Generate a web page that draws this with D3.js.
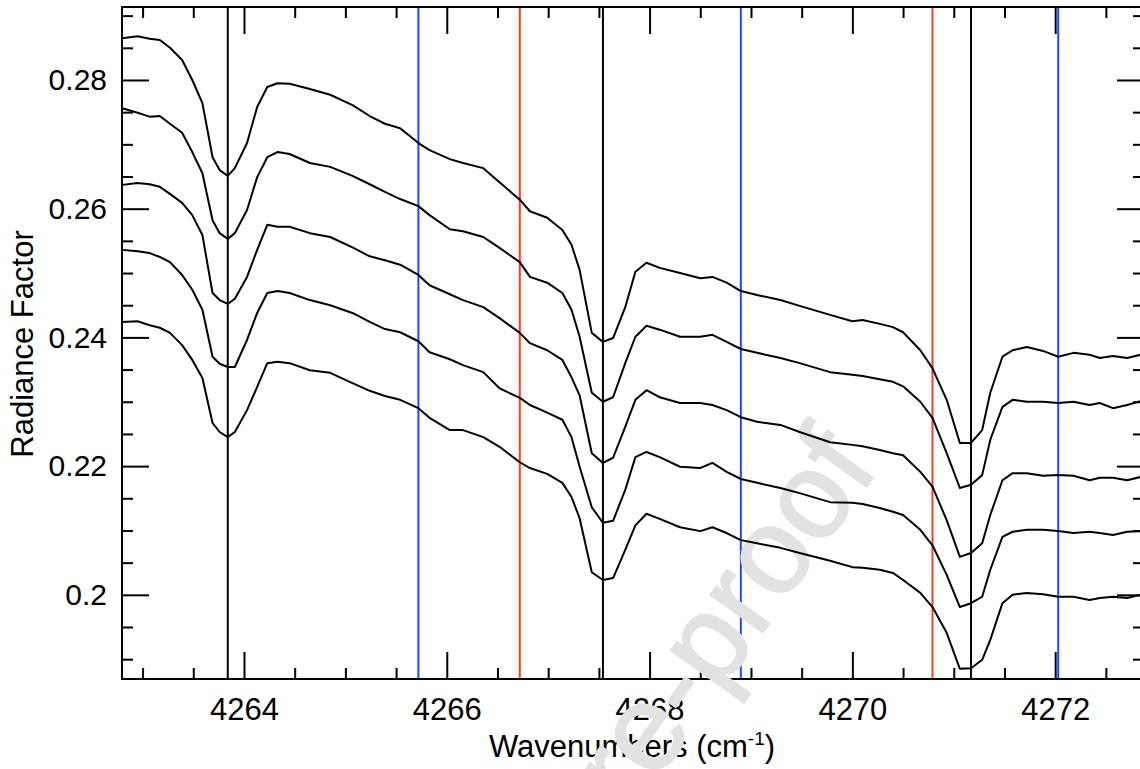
<!DOCTYPE html>
<html>
<head>
<meta charset="utf-8">
<script src="https://cdn.jsdelivr.net/npm/d3@7/dist/d3.min.js"></script>
<style>
  html, body { margin: 0; padding: 0; background: #ffffff; }
  svg { display: block; }
  text { font-family: "Liberation Sans", Arial, Helvetica, sans-serif; fill: #000; }
</style>
</head>
<body>
<svg id="chart" width="1140" height="769"></svg>
<script>
// ---------------- DATA ----------------
const wavenumbers = [4262.80, 4262.95, 4263.07, 4263.17, 4263.27, 4263.39, 4263.49, 4263.59, 4263.69, 4263.76,
  4263.84, 4263.91, 4264.03, 4264.13, 4264.23, 4264.33, 4264.45, 4264.65, 4264.85, 4265.07,
  4265.24, 4265.39, 4265.54, 4265.72, 4265.83, 4266.03, 4266.16, 4266.36, 4266.52, 4266.72,
  4266.82, 4266.99, 4267.14, 4267.23, 4267.31, 4267.43, 4267.54, 4267.64, 4267.76, 4267.86,
  4267.97, 4268.10, 4268.30, 4268.50, 4268.62, 4268.76, 4268.90, 4269.06, 4269.29, 4269.48,
  4269.78, 4270.00, 4270.10, 4270.27, 4270.40, 4270.50, 4270.67, 4270.79, 4270.93, 4271.06,
  4271.17, 4271.28, 4271.36, 4271.48, 4271.58, 4271.72, 4271.88, 4272.03, 4272.18, 4272.34,
  4272.44, 4272.57, 4272.71, 4272.84];

const spectrum1 = [0.2865, 0.2868, 0.2864, 0.2862, 0.2850, 0.2831, 0.2800, 0.2764, 0.2680, 0.2660,
  0.2651, 0.2663, 0.2702, 0.2758, 0.2789, 0.2795, 0.2794, 0.2786, 0.2777, 0.2761,
  0.2744, 0.2732, 0.2725, 0.2702, 0.2691, 0.2677, 0.2671, 0.2663, 0.2641, 0.2614,
  0.2596, 0.2586, 0.2567, 0.2544, 0.2505, 0.2407, 0.2393, 0.2399, 0.2447, 0.2502,
  0.2516, 0.2508, 0.2500, 0.2492, 0.2494, 0.2485, 0.2472, 0.2466, 0.2458, 0.2449,
  0.2435, 0.2425, 0.2427, 0.2421, 0.2416, 0.2408, 0.2380, 0.2352, 0.2303, 0.2236,
  0.2236, 0.2256, 0.2314, 0.2370, 0.2380, 0.2385, 0.2379, 0.2370, 0.2376, 0.2373,
  0.2368, 0.2371, 0.2368, 0.2373];

const spectrum2 = [0.2756, 0.2749, 0.2743, 0.2744, 0.2732, 0.2718, 0.2688, 0.2655, 0.2582, 0.2562,
  0.2553, 0.2562, 0.2598, 0.2649, 0.2680, 0.2688, 0.2685, 0.2671, 0.2665, 0.2651,
  0.2638, 0.2626, 0.2615, 0.2604, 0.2590, 0.2568, 0.2565, 0.2556, 0.2539, 0.2517,
  0.2494, 0.2485, 0.2469, 0.2443, 0.2401, 0.2314, 0.2300, 0.2307, 0.2360, 0.2401,
  0.2418, 0.2412, 0.2401, 0.2401, 0.2404, 0.2393, 0.2382, 0.2376, 0.2368, 0.2360,
  0.2346, 0.2342, 0.2340, 0.2335, 0.2331, 0.2324, 0.2300, 0.2275, 0.2220, 0.2166,
  0.2171, 0.2186, 0.2241, 0.2292, 0.2303, 0.2300, 0.2300, 0.2298, 0.2300, 0.2295,
  0.2298, 0.2290, 0.2295, 0.2301];

const spectrum3 = [0.2637, 0.2640, 0.2638, 0.2634, 0.2623, 0.2609, 0.2590, 0.2559, 0.2469, 0.2458,
  0.2452, 0.2460, 0.2494, 0.2536, 0.2575, 0.2572, 0.2572, 0.2562, 0.2556, 0.2540,
  0.2526, 0.2520, 0.2513, 0.2497, 0.2481, 0.2467, 0.2458, 0.2447, 0.2430, 0.2407,
  0.2391, 0.2380, 0.2365, 0.2338, 0.2310, 0.2220, 0.2205, 0.2213, 0.2261, 0.2303,
  0.2318, 0.2307, 0.2298, 0.2298, 0.2295, 0.2287, 0.2276, 0.2269, 0.2264, 0.2253,
  0.2237, 0.2233, 0.2231, 0.2225, 0.2220, 0.2217, 0.2191, 0.2168, 0.2116, 0.2059,
  0.2065, 0.2080, 0.2124, 0.2178, 0.2189, 0.2189, 0.2185, 0.2186, 0.2185, 0.2178,
  0.2182, 0.2182, 0.2178, 0.2183];

const spectrum4 = [0.2536, 0.2534, 0.2531, 0.2525, 0.2517, 0.2497, 0.2474, 0.2443, 0.2370, 0.2359,
  0.2354, 0.2354, 0.2396, 0.2438, 0.2469, 0.2472, 0.2469, 0.2458, 0.2450, 0.2438,
  0.2424, 0.2413, 0.2408, 0.2394, 0.2377, 0.2366, 0.2357, 0.2346, 0.2321, 0.2306,
  0.2295, 0.2283, 0.2272, 0.2245, 0.2199, 0.2136, 0.2112, 0.2115, 0.2163, 0.2214,
  0.2222, 0.2214, 0.2199, 0.2197, 0.2205, 0.2191, 0.2180, 0.2174, 0.2166, 0.2158,
  0.2144, 0.2143, 0.2141, 0.2135, 0.2129, 0.2124, 0.2101, 0.2077, 0.2031, 0.1981,
  0.1987, 0.1997, 0.2039, 0.2090, 0.2098, 0.2101, 0.2101, 0.2099, 0.2096, 0.2098,
  0.2096, 0.2093, 0.2098, 0.2099];

const spectrum5 = [0.2424, 0.2425, 0.2419, 0.2415, 0.2407, 0.2388, 0.2365, 0.2337, 0.2267, 0.2253,
  0.2245, 0.2253, 0.2287, 0.2323, 0.2360, 0.2362, 0.2360, 0.2349, 0.2345, 0.2329,
  0.2317, 0.2309, 0.2303, 0.2290, 0.2275, 0.2256, 0.2256, 0.2245, 0.2230, 0.2206,
  0.2197, 0.2188, 0.2174, 0.2152, 0.2119, 0.2035, 0.2023, 0.2026, 0.2070, 0.2108,
  0.2126, 0.2118, 0.2105, 0.2099, 0.2105, 0.2096, 0.2085, 0.2080, 0.2073, 0.2065,
  0.2053, 0.2043, 0.2042, 0.2039, 0.2034, 0.2023, 0.2003, 0.1981, 0.1941, 0.1885,
  0.1886, 0.1899, 0.1930, 0.1987, 0.2000, 0.2003, 0.2001, 0.1997, 0.1997, 0.1992,
  0.1995, 0.1997, 0.1995, 0.2000];

const blackLines = [4263.84, 4267.54, 4271.17];
const blueLines = [4265.72, 4268.90, 4272.03];
const redLines = [4266.72, 4270.79];

const xMajorTicks = [4264, 4266, 4268, 4270, 4272];
const xTickLabels = ["4264", "4266", "4268", "4270", "4272"];
const xMinorTicks = [4263.0, 4263.5, 4264.5, 4265.0, 4265.5, 4266.5, 4267.0, 4267.5, 4268.5, 4269.0, 4269.5, 4270.5, 4271.0, 4271.5, 4272.5];
const yMajorTicks = [0.20, 0.22, 0.24, 0.26, 0.28];
const yTickLabels = ["0.2", "0.22", "0.24", "0.26", "0.28"];
const yMinorTicks = [0.190, 0.195, 0.205, 0.210, 0.215, 0.225, 0.230, 0.235, 0.245, 0.250, 0.255, 0.265, 0.270, 0.275, 0.285, 0.290];

const xDomain = [4262.797, 4272.876];
const yDomain = [0.18692, 0.29134];

// ---------------- LAYOUT ----------------
const svg = d3.select("#chart");
const L = 122, T = 7, R = 1144, B = 679;
const x = d3.scaleLinear().domain(xDomain).range([L, R]);
const y = d3.scaleLinear().domain(yDomain).range([B, T]);

svg.append("defs").append("clipPath").attr("id", "plotclip")
  .append("rect").attr("x", L).attr("y", T).attr("width", R - L).attr("height", B - T);

// vertical reference lines
const vgroup = svg.append("g").attr("clip-path", "url(#plotclip)");
function vlines(vals, color) {
  vgroup.selectAll(null).data(vals).enter().append("line")
    .attr("x1", d => x(d)).attr("x2", d => x(d))
    .attr("y1", T).attr("y2", B)
    .attr("stroke", color).attr("stroke-width", 2);
}
vlines(blackLines, "#000000");
vlines(blueLines, "#2246ff");
vlines(redLines, "#ff3a26");

// axes
const fmtX = d => xTickLabels[xMajorTicks.indexOf(d)];
const fmtY = d => yTickLabels[yMajorTicks.findIndex(v => Math.abs(v - d) < 1e-9)];

function styleAxis(g) {
  g.select(".domain").remove();
  g.selectAll(".tick line").attr("stroke", "#000").attr("stroke-width", 2);
}

svg.append("g").attr("transform", `translate(0,${B})`)
  .call(d3.axisBottom(x).tickValues(xMajorTicks).tickSize(-27).tickPadding(19).tickFormat(fmtX))
  .call(styleAxis)
  .call(g => g.selectAll("text").attr("font-size", 31).style("font-family", "'Liberation Sans', Arial, sans-serif"));
svg.append("g").attr("transform", `translate(0,${B})`)
  .call(d3.axisBottom(x).tickValues(xMinorTicks).tickSize(-11).tickFormat(""))
  .call(styleAxis);
svg.append("g").attr("transform", `translate(0,${T})`)
  .call(d3.axisTop(x).tickValues(xMajorTicks).tickSize(-27).tickFormat(""))
  .call(styleAxis);
svg.append("g").attr("transform", `translate(0,${T})`)
  .call(d3.axisTop(x).tickValues(xMinorTicks).tickSize(-11).tickFormat(""))
  .call(styleAxis);

svg.append("g").attr("transform", `translate(${L},0)`)
  .call(d3.axisLeft(y).tickValues(yMajorTicks).tickSize(-27).tickPadding(15).tickFormat(fmtY))
  .call(styleAxis)
  .call(g => g.selectAll("text").attr("font-size", 30).style("font-family", "'Liberation Sans', Arial, sans-serif"));
svg.append("g").attr("transform", `translate(${L},0)`)
  .call(d3.axisLeft(y).tickValues(yMinorTicks).tickSize(-11).tickFormat(""))
  .call(styleAxis);
svg.append("g").attr("transform", `translate(${R},0)`)
  .call(d3.axisRight(y).tickValues(yMajorTicks).tickSize(-27).tickFormat(""))
  .call(styleAxis);
svg.append("g").attr("transform", `translate(${R},0)`)
  .call(d3.axisRight(y).tickValues(yMinorTicks).tickSize(-11).tickFormat(""))
  .call(styleAxis);

// frame
svg.append("rect").attr("x", L).attr("y", T).attr("width", R - L).attr("height", B - T)
  .attr("fill", "none").attr("stroke", "#000").attr("stroke-width", 2);

// axis titles
const xt = svg.append("text").attr("x", 632).attr("y", 757)
  .attr("text-anchor", "middle").attr("font-size", 31);
xt.append("tspan").text("Wavenumbers (cm");
xt.append("tspan").attr("font-size", 19).attr("dy", -12).text("-1");
xt.append("tspan").attr("dy", 12).text(")");

svg.append("text").attr("transform", "translate(33,344) rotate(-90)")
  .attr("text-anchor", "middle").attr("font-size", 31).text("Radiance Factor");

// watermark (partly outside the page, as in the source figure)
svg.append("text").attr("transform", "translate(880,468) rotate(-54.5)")
  .attr("text-anchor", "end").attr("font-size", 122)
  .style("fill", "#e2e2e2").style("stroke", "#e2e2e2").style("stroke-width", 2)
  .text("Journal Pre-proof");

// spectra
const spectra = [spectrum1, spectrum2, spectrum3, spectrum4, spectrum5];
const line = d3.line().x((d, i) => x(wavenumbers[i])).y(d => y(d));
svg.append("g").attr("clip-path", "url(#plotclip)")
  .selectAll("path").data(spectra).enter().append("path")
  .attr("d", d => line(d))
  .attr("fill", "none").attr("stroke", "#000").attr("stroke-width", 2)
  .attr("stroke-linejoin", "round");
</script>
</body>
</html>
